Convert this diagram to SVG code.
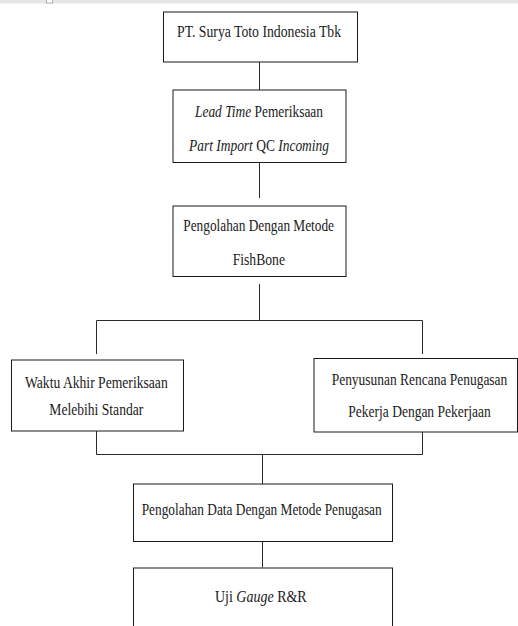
<svg xmlns="http://www.w3.org/2000/svg" width="518" height="626" viewBox="0 0 518 626">
<style>
.box{fill:#fff;stroke:#1a1a1a;stroke-width:1}
.con{fill:none;stroke:#2a2a2a;stroke-width:1}
.t{font-family:'Liberation Serif','Times New Roman',serif;font-size:16px;fill:#1a1a1a}
.i{font-style:italic}
</style>
<rect x="0" y="0" width="518" height="626" fill="#fff"/>
<rect x="0" y="0" width="518" height="3.5" fill="#e6e6e6"/>
<rect x="46.5" y="-1" width="6" height="4" fill="#fff" stroke="#b0b0b0" stroke-width="1"/>
<g id="connectors">
<path class="con" d="M259.5 62V90M259.5 162V198M259.5 284V320.5M96.5 354V320.5H422.5V354M96.5 431V454.5H422.5V432M262.5 454.5V484M262.5 541.5V567.5"/>
</g>
<g id="n1">
<rect class="box" x="163.5" y="12" width="194" height="50"/>
<text class="t" x="177" y="37.3" textLength="164" lengthAdjust="spacingAndGlyphs">PT. Surya Toto Indonesia Tbk</text>
</g>
<g id="n2">
<rect class="box" x="173" y="90" width="173" height="72.5"/>
<text class="t" x="195" y="117.3" textLength="128" lengthAdjust="spacingAndGlyphs"><tspan class="i">Lead Time</tspan> Pemeriksaan</text>
<text class="t" x="189" y="150.7" textLength="140" lengthAdjust="spacingAndGlyphs"><tspan class="i">Part Import</tspan> QC <tspan class="i">Incoming</tspan></text>
</g>
<g id="n3">
<rect class="box" x="173" y="206" width="173" height="70.5"/>
<text class="t" x="183.3" y="230.7" textLength="150.7" lengthAdjust="spacingAndGlyphs">Pengolahan Dengan Metode</text>
<text class="t" x="232.7" y="265" textLength="52.3" lengthAdjust="spacingAndGlyphs">FishBone</text>
</g>
<g id="n4">
<rect class="box" x="11.5" y="360" width="172" height="71"/>
<text class="t" x="25" y="388" textLength="142.7" lengthAdjust="spacingAndGlyphs">Waktu Akhir Pemeriksaan</text>
<text class="t" x="49.3" y="414.5" textLength="94" lengthAdjust="spacingAndGlyphs">Melebihi Standar</text>
</g>
<g id="n5">
<rect class="box" x="314" y="358.5" width="203.5" height="73.5"/>
<text class="t" x="331.7" y="385" textLength="175.6" lengthAdjust="spacingAndGlyphs">Penyusunan Rencana Penugasan</text>
<text class="t" x="348.3" y="416.7" textLength="142.4" lengthAdjust="spacingAndGlyphs">Pekerja Dengan Pekerjaan</text>
</g>
<g id="n6">
<rect class="box" x="133.5" y="484" width="259" height="57.5"/>
<text class="t" x="141.7" y="515" textLength="240" lengthAdjust="spacingAndGlyphs">Pengolahan Data Dengan Metode Penugasan</text>
</g>
<g id="n7">
<rect class="box" x="133.5" y="568" width="259" height="70"/>
<text class="t" x="215" y="601.7" textLength="91.7" lengthAdjust="spacingAndGlyphs">Uji <tspan class="i">Gauge</tspan> R&amp;R</text>
</g>
</svg>
